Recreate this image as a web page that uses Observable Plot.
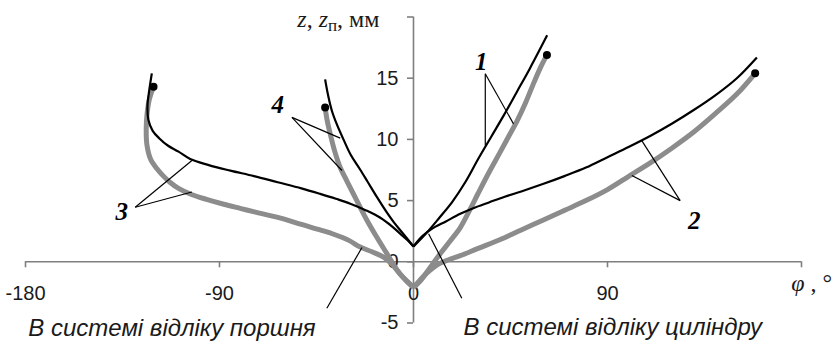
<!DOCTYPE html>
<html><head><meta charset="utf-8">
<script src="https://cdn.jsdelivr.net/npm/d3@7"></script>
<script src="https://cdn.jsdelivr.net/npm/@observablehq/plot@0.6"></script>
<style>html,body{margin:0;padding:0;background:#fff}#chart svg{display:block}</style>
</head><body><div id="chart"></div>
<script>
// ---- data ----
const xTicks = [-180, -90, 0, 90, 180];
const xTickLabels = ["-180", "-90", "0", "90", ""];
const yTicks = [-5, 0, 5, 10, 15, 20];
const yTickLabels = ["-5", "0", "5", "10", "15", ""];

// curve 1 (cylinder frame, steep)
const c1Black = [[0,1.25],[6,2.35],[12,3.6],[18,4.9],[24,6.5],[30,8.4],[36,10.2],[42,12],[48,13.9],[54,15.8],[62,18.5]];
const c1Gray  = [[0,-2.1],[3,-1.6],[6,-0.9],[9,-0.15],[13,0.8],[17,1.7],[21.7,2.8],[26,4.2],[30,5.6],[35,7.3],[40,8.9],[44,10.2],[48,11.5],[52,13],[56,14.7],[59,15.9],[61.9,16.9]];
// curve 2 (cylinder frame, shallow)
const c2Black = [[0,1.25],[3,1.9],[6.2,2.4],[10,2.85],[15,3.3],[21.7,3.92],[28,4.4],[35,4.85],[42,5.3],[50,5.75],[60,6.35],[70,7.0],[80,7.7],[90,8.55],[100,9.4],[110,10.3],[120,11.3],[130,12.4],[140,13.6],[150,15.0],[159.3,16.7]];
const c2Gray  = [[0,-2.1],[3,-1.5],[6,-0.95],[9,-0.5],[12,-0.15],[16,0.15],[21.7,0.5],[30,1.1],[40,1.8],[50,2.6],[60,3.4],[70,4.2],[80,5.0],[90,5.9],[100,7.0],[110,8.1],[120,9.3],[130,10.6],[140,12.1],[150,13.7],[158.5,15.4]];
// curve 3 (piston frame, shallow)
const c3Black = [[-121.4,15.4],[-122.6,14],[-123.4,12.8],[-123,11.6],[-121,10.7],[-118,10.1],[-114,9.5],[-109,9.0],[-103.6,8.4],[-95,7.9],[-85,7.45],[-74,7.0],[-63,6.5],[-52,6.0],[-43.3,5.55],[-36,5.15],[-29.3,4.75],[-22,4.2],[-15.4,3.6],[-10,2.9],[-6.2,2.3],[-3,1.8],[0,1.25]];
const c3Gray  = [[-120.6,14.3],[-122.5,13.3],[-123.6,12.1],[-124,10.9],[-123.7,9.6],[-122,8.4],[-119,7.6],[-116,7.0],[-113,6.5],[-109,6.0],[-103,5.5],[-96,5.1],[-88,4.7],[-80,4.35],[-72,4.0],[-60.3,3.5],[-52,3.05],[-43.3,2.6],[-37,2.25],[-30,1.75],[-24.7,1.2],[-19,0.8],[-13.9,0.38],[-10,-0.2],[-6.2,-1.0],[-3,-1.6],[0,-2.1]];
// curve 4 (piston frame, steep)
const c4Black = [[0,1.25],[-4.8,2.3],[-9,3.2],[-13,4.2],[-17,5.3],[-21.5,6.6],[-25,7.6],[-29,8.7],[-32.5,10],[-35.5,11.2],[-37.8,12.3],[-39.5,13.5],[-41,14.9]];
const c4Gray  = [[0,-2.1],[-3,-1.6],[-6.2,-1.0],[-9,-0.3],[-12.3,0.65],[-17,2.0],[-21.6,3.4],[-26,4.9],[-30.9,6.6],[-34,7.7],[-36.5,9.0],[-38.7,10.5],[-40,11.5],[-41,12.6]];

const endDots = [[61.9,16.9],[158.5,15.4],[-120.6,14.3],[-41,12.6]];

const curveLabels = [
  {text: "1", x: 31.4, y: 16.36},
  {text: "2", x: 130.2, y: 3.37},
  {text: "3", x: -135.3, y: 4.03},
  {text: "4", x: -63, y: 12.85}
];
// leader lines [x1,y1,x2,y2]
const leaders = [
  [33.3,15.36,33.3,9.5],[33.3,15.36,46.4,11.27],
  [123.7,5.0,105.9,9.9],[123.7,5.0,101.3,7.05],
  [-129.1,4.46,-102.8,8.28],[-129.1,4.46,-102.8,5.7],
  [-56.4,11.8,-34,10.1],[-56.4,11.8,-33.2,7.46],
  [-40.2,-3.8,-23.9,1.17],
  [22.4,-2.97,7,2.29]
];
const frameTexts = [
  {text: "В системі відліку поршня", x: -178.7, y: -5.42},
  {text: "В системі відліку циліндру", x: 23.2, y: -5.33}
];
const yTitle = {text: "z, zп, мм", x: -53.9, y: 19.8};
const xTitle = {text: "φ , °", x: 175.2, y: -1.72};

// ---- layout ----
const W = 840, H = 342, mL = 25, mR = 39, mT = 16.5, mB = 19.5;
const xDomain = [-180, 180], yDomain = [-5, 20];
const xs = Plot.scale({x: {domain: xDomain, range: [mL, W - mR]}});
const ys = Plot.scale({y: {domain: yDomain, range: [H - mB, mT]}});
const axisDx = xs.apply(0) - mL;
const axisDy = ys.apply(0) - (H - mB);

const axisColor = "#7f7f7f";
const textColor = "#1a1a1a";
const grayColor = "#8c8c8c";
const sans = "Liberation Sans, Arial, sans-serif";
const serif = "Liberation Serif, Times New Roman, serif";

const line = (data, stroke, w) => Plot.line(data, {x: d => d[0], y: d => d[1], stroke, strokeWidth: w, curve: "catmull-rom", strokeLinejoin: "round", strokeLinecap: "butt"});

const chart = Plot.plot({
  width: W, height: H,
  marginLeft: mL, marginRight: mR, marginTop: mT, marginBottom: mB,
  x: {domain: xDomain},
  y: {domain: yDomain},
  style: {background: "#fff", fontFamily: sans, fontSize: "20px", overflow: "visible", color: textColor},
  marks: [
    Plot.ruleY([0], {stroke: axisColor, strokeWidth: 1.6}),
    Plot.ruleX([0], {y1: yDomain[0], y2: yDomain[1], stroke: axisColor, strokeWidth: 1.6}),
    Plot.axisX({ticks: xTicks, tickFormat: d => xTickLabels[xTicks.indexOf(d)], tickSize: 6, tickPadding: 17.5, dy: axisDy, stroke: axisColor, strokeWidth: 1.6, fill: textColor, fontSize: 20, fontFamily: sans, label: null}),
    Plot.axisY({ticks: yTicks, tickFormat: d => yTickLabels[yTicks.indexOf(d)], tickSize: 6, tickPadding: 9, dx: axisDx, stroke: axisColor, strokeWidth: 1.6, fill: textColor, fontSize: 20, fontFamily: sans, label: null}),
    line(c1Gray, grayColor, 5),
    line(c2Gray, grayColor, 5),
    line(c3Gray, grayColor, 5),
    line(c4Gray, grayColor, 5),
    line(c1Black, "#000", 2.2),
    line(c2Black, "#000", 2.2),
    line(c3Black, "#000", 2.2),
    line(c4Black, "#000", 2.2),
    Plot.dot(endDots, {x: d => d[0], y: d => d[1], r: 4, fill: "#000"}),
    Plot.link(leaders, {x1: d => d[0], y1: d => d[1], x2: d => d[2], y2: d => d[3], stroke: "#000", strokeWidth: 1.2}),
    Plot.text(curveLabels, {x: "x", y: "y", text: "text", fontFamily: serif, fontStyle: "italic", fontWeight: "bold", fontSize: 25, fill: "#000"}),
    Plot.text(frameTexts, {x: "x", y: "y", text: "text", textAnchor: "start", fontFamily: sans, fontStyle: "italic", fontSize: 24, fill: textColor}),
    Plot.text([yTitle], {x: "x", y: "y", text: "text", textAnchor: "start", fontFamily: serif, fontSize: 24, fill: textColor}),
    Plot.text([xTitle], {x: "x", y: "y", text: "text", textAnchor: "start", fontFamily: serif, fontSize: 24, fill: textColor})
  ]
});

// rich text: italic z, subscript п, italic φ
d3.select(chart).selectAll("text").each(function() {
  const t = this.textContent;
  if (t === yTitle.text) {
    const s = d3.select(this); s.text("");
    s.append("tspan").attr("font-style", "italic").text("z");
    s.append("tspan").text(", ");
    s.append("tspan").attr("font-style", "italic").text("z");
    s.append("tspan").attr("font-size", "17px").attr("dy", "0.22em").text("п");
    s.append("tspan").attr("dy", "-0.15em").text(", мм");
  } else if (t === xTitle.text) {
    const s = d3.select(this); s.text("");
    s.append("tspan").attr("font-style", "italic").text("φ");
    s.append("tspan").text(" , °");
  }
});
document.getElementById("chart").appendChild(chart);
</script>
</body></html>
